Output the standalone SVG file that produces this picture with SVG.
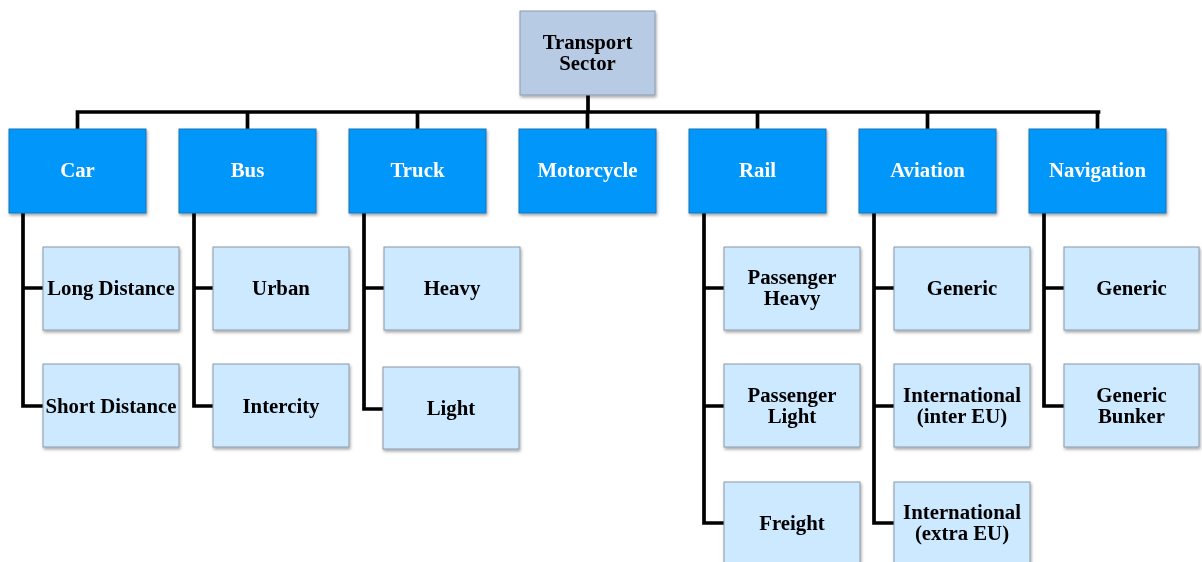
<svg xmlns="http://www.w3.org/2000/svg" width="1202" height="562" viewBox="0 0 1202 562">
<defs>
<filter id="sh" x="-10%" y="-10%" width="125%" height="130%">
<feDropShadow dx="1" dy="2" stdDeviation="1.5" flood-color="#000" flood-opacity="0.35"/>
</filter>
<style>
.root{fill:#b8cbe4;stroke:#8a9ab0;stroke-width:1}
.l1{fill:#0096fa;stroke:#1a74b8;stroke-width:1}
.l2{fill:#cce9ff;stroke:#8a9aa8;stroke-width:1}
.box{filter:url(#sh)}
text{font-family:"Liberation Serif","Times New Roman",serif;font-weight:bold;font-size:20.8px;text-anchor:middle}
.w{fill:#ffffff}
.k{fill:#000000}
.c{fill:none;stroke:#000;stroke-width:3.7;stroke-linejoin:miter;stroke-linecap:square}
</style>
</defs>
<g id="connectors">
<path class="c" d="M588 95 V112 M77.5 112 H1098.5 M77.5 112 V129 M247.5 112 V129 M417.5 112 V129 M587.5 112 V129 M757.5 112 V129 M927.5 112 V129 M1097.5 112 V129"/>
<path class="c" d="M23 213 V406 H43 M23 288 H43"/>
<path class="c" d="M194 213 V406 H213 M194 288 H213"/>
<path class="c" d="M364 213 V409 H384 M364 288 H384"/>
<path class="c" d="M704 213 V523 H724 M704 288 H724 M704 406 H724"/>
<path class="c" d="M874 213 V523 H894 M874 288 H894 M874 406 H894"/>
<path class="c" d="M1044 213 V406 H1064 M1044 288 H1064"/>
</g>
<g id="transport-sector" class="box"><rect class="root" x="520" y="11" width="135" height="84"/><text class="k" x="587.5" y="49">Transport</text><text class="k" x="587.5" y="70">Sector</text></g>
<g id="car" class="box"><rect class="l1" x="9" y="129" width="137" height="84"/><text class="w" x="77.5" y="177">Car</text></g>
<g id="bus" class="box"><rect class="l1" x="179" y="129" width="137" height="84"/><text class="w" x="247.5" y="177">Bus</text></g>
<g id="truck" class="box"><rect class="l1" x="349" y="129" width="137" height="84"/><text class="w" x="417.5" y="177">Truck</text></g>
<g id="motorcycle" class="box"><rect class="l1" x="519" y="129" width="137" height="84"/><text class="w" x="587.5" y="177">Motorcycle</text></g>
<g id="rail" class="box"><rect class="l1" x="689" y="129" width="137" height="84"/><text class="w" x="757.5" y="177">Rail</text></g>
<g id="aviation" class="box"><rect class="l1" x="859" y="129" width="137" height="84"/><text class="w" x="927.5" y="177">Aviation</text></g>
<g id="navigation" class="box"><rect class="l1" x="1029" y="129" width="137" height="84"/><text class="w" x="1097.5" y="177">Navigation</text></g>

<g id="car-long" class="box"><rect class="l2" x="43" y="247" width="136" height="83"/><text class="k" x="111" y="295">Long Distance</text></g>
<g id="car-short" class="box"><rect class="l2" x="43" y="364" width="136" height="83"/><text class="k" x="111" y="413">Short Distance</text></g>
<g id="bus-urban" class="box"><rect class="l2" x="213" y="247" width="136" height="83"/><text class="k" x="281" y="295">Urban</text></g>
<g id="bus-intercity" class="box"><rect class="l2" x="213" y="364" width="136" height="83"/><text class="k" x="281" y="413">Intercity</text></g>
<g id="truck-heavy" class="box"><rect class="l2" x="384" y="247" width="136" height="83"/><text class="k" x="452" y="295">Heavy</text></g>
<g id="truck-light" class="box"><rect class="l2" x="383" y="367" width="136" height="82"/><text class="k" x="451" y="415">Light</text></g>
<g id="rail-pheavy" class="box"><rect class="l2" x="724" y="247" width="136" height="83"/><text class="k" x="792" y="284">Passenger</text><text class="k" x="792" y="305">Heavy</text></g>
<g id="rail-plight" class="box"><rect class="l2" x="724" y="364" width="136" height="83"/><text class="k" x="792" y="402">Passenger</text><text class="k" x="792" y="423">Light</text></g>
<g id="rail-freight" class="box"><rect class="l2" x="724" y="482" width="136" height="83"/><text class="k" x="792" y="530">Freight</text></g>
<g id="aviation-generic" class="box"><rect class="l2" x="894" y="247" width="136" height="83"/><text class="k" x="962" y="295">Generic</text></g>
<g id="aviation-inter" class="box"><rect class="l2" x="894" y="364" width="136" height="83"/><text class="k" x="962" y="402">International</text><text class="k" x="962" y="423">(inter EU)</text></g>
<g id="aviation-extra" class="box"><rect class="l2" x="894" y="482" width="136" height="83"/><text class="k" x="962" y="519">International</text><text class="k" x="962" y="540">(extra EU)</text></g>
<g id="navigation-generic" class="box"><rect class="l2" x="1064" y="247" width="135" height="83"/><text class="k" x="1131.5" y="295">Generic</text></g>
<g id="navigation-bunker" class="box"><rect class="l2" x="1064" y="364" width="135" height="83"/><text class="k" x="1131.5" y="402">Generic</text><text class="k" x="1131.5" y="423">Bunker</text></g>
</svg>
